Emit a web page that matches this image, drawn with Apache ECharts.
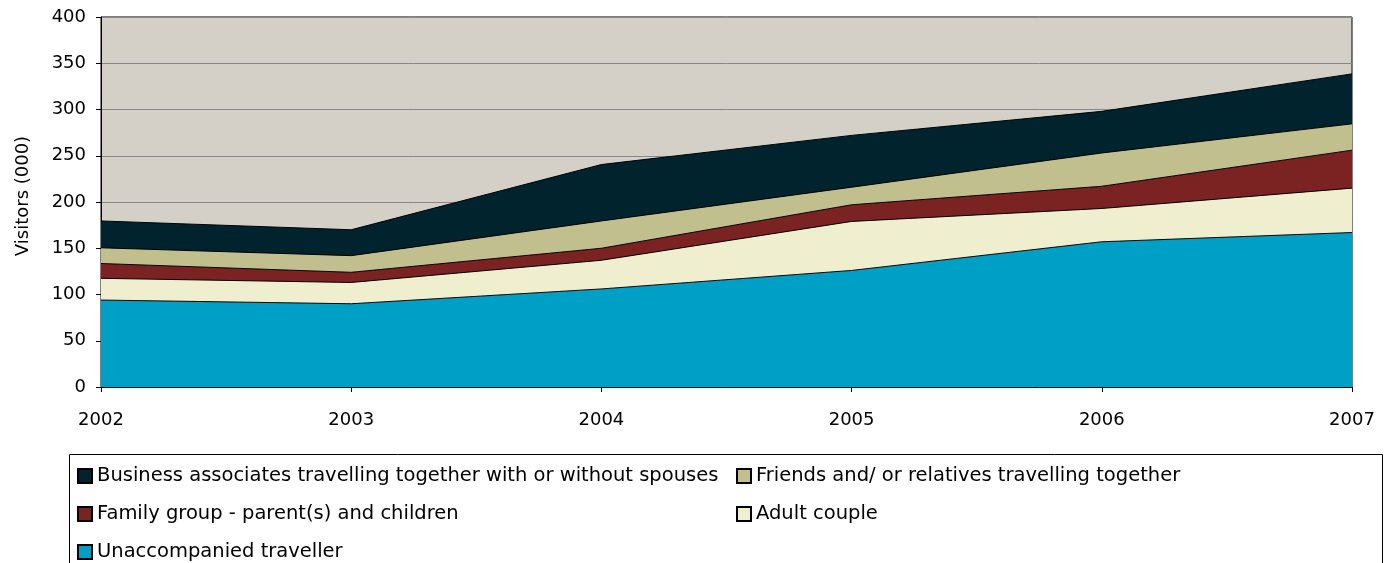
<!DOCTYPE html>
<html><head><meta charset="utf-8">
<script src="https://cdn.jsdelivr.net/npm/echarts@6/dist/echarts.min.js"></script>
<style>html,body{margin:0;padding:0;background:#fff}#c{width:1389px;height:563px}</style>
</head><body><div id="c"></div>
<script>
var years = ['2002','2003','2004','2005','2006','2007'];
var unaccompanied = [94, 90, 106, 126, 157, 167];
var adultCouple = [23.5, 23, 31, 53, 36, 48];
var familyGroup = [16, 11, 13, 18, 24, 41];
var friendsRelatives = [17, 18, 29.5, 19, 36, 28.5];
var business = [29, 28, 61, 56, 45, 54];

var names = {
  u: 'Unaccompanied traveller',
  a: 'Adult couple',
  f: 'Family group - parent(s) and children',
  r: 'Friends and/ or relatives travelling together',
  b: 'Business associates travelling together with or without spouses'
};
var colors = {u:'#00A0C6', a:'#EFEFCF', f:'#7B2322', r:'#C2BF8F', b:'#00232D'};
var font = 'DejaVu Sans, Liberation Sans, Arial, sans-serif';

function mk(key, data) {
  return {
    name: names[key], type: 'line', stack: 'total', data: data,
    symbol: 'none', smooth: false,
    lineStyle: {color: '#000', width: 1},
    areaStyle: {color: colors[key], opacity: 1},
    itemStyle: {color: colors[key], borderColor: '#000', borderWidth: 1}
  };
}

var chart = echarts.init(document.getElementById('c'), null, {renderer: 'canvas'});
function legendAt(left, data) {
  return {
    left: left, top: 466, padding: 0, height: 200,
    orient: 'vertical', itemWidth: 14, itemHeight: 14, itemGap: 18,
    icon: 'rect', data: data,
    textStyle: {fontFamily: font, fontSize: 19.5, color: '#000'},
    selectedMode: false
  };
}
chart.setOption({
  animation: false,
  grid: {left: 101, right: 37, top: 17, bottom: 176, show: true,
    backgroundColor: '#D4D0C8', borderColor: '#000', borderWidth: 1},
  xAxis: {
    type: 'category', data: years, boundaryGap: false,
    axisLine: {lineStyle: {color: '#000', width: 1}},
    axisTick: {show: true, length: 5, lineStyle: {color: '#000'}},
    axisLabel: {fontFamily: font, fontSize: 18, color: '#000', margin: 24}
  },
  yAxis: {
    type: 'value', min: 0, max: 400, interval: 50,
    name: 'Visitors (000)', nameLocation: 'middle', nameGap: 69,
    nameTextStyle: {fontFamily: font, fontSize: 18, color: '#000', padding: [0, 0, 0, 12]},
    axisLine: {show: true, lineStyle: {color: '#000', width: 1}},
    axisTick: {show: true, length: 5, lineStyle: {color: '#000'}},
    axisLabel: {fontFamily: font, fontSize: 18, color: '#000', margin: 15},
    splitLine: {show: true, lineStyle: {color: '#888', width: 1}}
  },
  legend: [
    legendAt(77, [names.b, names.f, names.u]),
    legendAt(736, [names.r, names.a])
  ],
  graphic: [{
    type: 'rect', shape: {x: 69.5, y: 454.5, width: 1313, height: 130},
    style: {fill: 'none', stroke: '#000', lineWidth: 1}, z: -1
  }],
  series: [
    mk('u', unaccompanied),
    mk('a', adultCouple),
    mk('f', familyGroup),
    mk('r', friendsRelatives),
    mk('b', business)
  ]
});
</script></body></html>
